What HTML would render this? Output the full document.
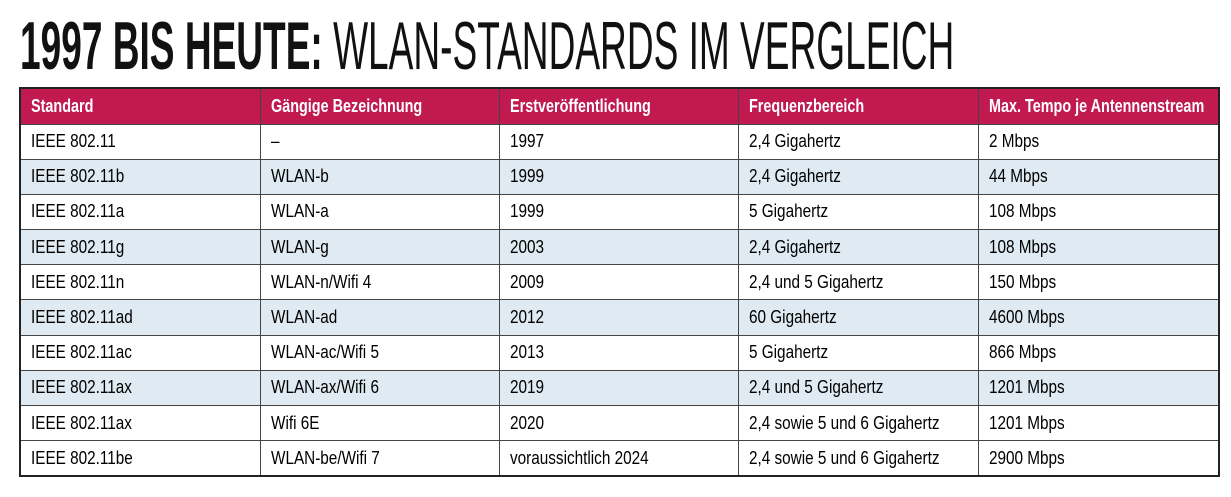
<!DOCTYPE html>
<html><head><meta charset="utf-8"><style>
body{margin:0;width:1231px;height:497px;background:#fff;overflow:hidden;font-family:"Liberation Sans",sans-serif;position:relative}
#title{position:absolute;left:20px;top:8px;font-size:68px;line-height:76px;white-space:nowrap;transform:scaleX(0.545);transform-origin:left top;color:#111}
#title b{font-weight:bold}
#title span{font-weight:normal}
table{position:absolute;left:19px;top:87px;width:1199px;border-collapse:collapse;border:2px solid #222;table-layout:fixed}
td,th{border:1.5px solid #444;height:34.2px;padding:0 0 0 10px;text-align:left;font-size:18px;white-space:nowrap;overflow:visible;box-sizing:border-box}
td{height:35.2px}
th{background:#c01a50;color:#fff;font-weight:bold;height:36px}
tr.b td{background:#dfeaf2}
.s{display:inline-block;transform:scaleX(0.85);transform-origin:left center}
th .s{transform:scaleX(0.8)}
</style></head><body>
<div id="title"><b>1997 BIS HEUTE:</b> <span>WLAN-STANDARDS IM VERGLEICH</span></div>
<table>
<colgroup><col style="width:240px"><col style="width:239px"><col style="width:239px"><col style="width:240px"><col style="width:241px"></colgroup>
<tr><th><span class="s">Standard</span></th><th><span class="s">Gängige Bezeichnung</span></th><th><span class="s">Erstveröffentlichung</span></th><th><span class="s">Frequenzbereich</span></th><th><span class="s">Max. Tempo je Antennenstream</span></th></tr>
<tr><td><span class="s">IEEE 802.11</span></td><td><span class="s">–</span></td><td><span class="s">1997</span></td><td><span class="s">2,4 Gigahertz</span></td><td><span class="s">2 Mbps</span></td></tr>
<tr class="b"><td><span class="s">IEEE 802.11b</span></td><td><span class="s">WLAN-b</span></td><td><span class="s">1999</span></td><td><span class="s">2,4 Gigahertz</span></td><td><span class="s">44 Mbps</span></td></tr>
<tr><td><span class="s">IEEE 802.11a</span></td><td><span class="s">WLAN-a</span></td><td><span class="s">1999</span></td><td><span class="s">5 Gigahertz</span></td><td><span class="s">108 Mbps</span></td></tr>
<tr class="b"><td><span class="s">IEEE 802.11g</span></td><td><span class="s">WLAN-g</span></td><td><span class="s">2003</span></td><td><span class="s">2,4 Gigahertz</span></td><td><span class="s">108 Mbps</span></td></tr>
<tr><td><span class="s">IEEE 802.11n</span></td><td><span class="s">WLAN-n/Wifi 4</span></td><td><span class="s">2009</span></td><td><span class="s">2,4 und 5 Gigahertz</span></td><td><span class="s">150 Mbps</span></td></tr>
<tr class="b"><td><span class="s">IEEE 802.11ad</span></td><td><span class="s">WLAN-ad</span></td><td><span class="s">2012</span></td><td><span class="s">60 Gigahertz</span></td><td><span class="s">4600 Mbps</span></td></tr>
<tr><td><span class="s">IEEE 802.11ac</span></td><td><span class="s">WLAN-ac/Wifi 5</span></td><td><span class="s">2013</span></td><td><span class="s">5 Gigahertz</span></td><td><span class="s">866 Mbps</span></td></tr>
<tr class="b"><td><span class="s">IEEE 802.11ax</span></td><td><span class="s">WLAN-ax/Wifi 6</span></td><td><span class="s">2019</span></td><td><span class="s">2,4 und 5 Gigahertz</span></td><td><span class="s">1201 Mbps</span></td></tr>
<tr><td><span class="s">IEEE 802.11ax</span></td><td><span class="s">Wifi 6E</span></td><td><span class="s">2020</span></td><td><span class="s">2,4 sowie 5 und 6 Gigahertz</span></td><td><span class="s">1201 Mbps</span></td></tr>
<tr><td><span class="s">IEEE 802.11be</span></td><td><span class="s">WLAN-be/Wifi 7</span></td><td><span class="s">voraussichtlich 2024</span></td><td><span class="s">2,4 sowie 5 und 6 Gigahertz</span></td><td><span class="s">2900 Mbps</span></td></tr>
</table>
</body></html>
